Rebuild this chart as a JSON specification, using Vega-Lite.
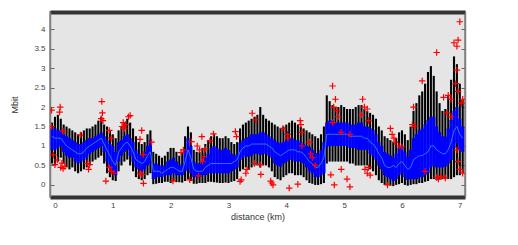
{
  "$schema": "https://vega.github.io/schema/vega-lite/v6.json",
  "autosize": {"type": "none"},
  "padding": {"left": 50, "top": 12, "right": 53, "bottom": 48},
  "width": 415,
  "height": 185,
  "background": "white",
  "config": {
    "view": {"fill": "#e5e5e5", "stroke": "#808080", "strokeWidth": 1.5},
    "axis": {"labelFont": "Liberation Sans", "labelFontSize": 8, "labelColor": "#444", "titleFont": "Liberation Sans", "titleFontSize": 9, "titleFontWeight": "normal", "titleColor": "#333", "grid": false}
  },
  "datasets": {
    "box": [
      {"d": -0.05, "lo": 0.55, "q1": 0.9, "m": 1.25, "q3": 1.45, "hi": 1.6},
      {"d": 0, "lo": 0.5, "q1": 0.9, "m": 1.2, "q3": 1.45, "hi": 1.75},
      {"d": 0.05, "lo": 0.6, "q1": 0.95, "m": 1.2, "q3": 1.4, "hi": 1.8},
      {"d": 0.1, "lo": 0.7, "q1": 1.0, "m": 1.2, "q3": 1.4, "hi": 1.7},
      {"d": 0.15, "lo": 0.55, "q1": 0.85, "m": 1.1, "q3": 1.3, "hi": 1.55},
      {"d": 0.2, "lo": 0.45, "q1": 0.75, "m": 1.0, "q3": 1.25, "hi": 1.5},
      {"d": 0.25, "lo": 0.4, "q1": 0.7, "m": 0.95, "q3": 1.2, "hi": 1.45},
      {"d": 0.3, "lo": 0.45, "q1": 0.7, "m": 0.9, "q3": 1.15, "hi": 1.4},
      {"d": 0.35, "lo": 0.35, "q1": 0.6, "m": 0.85, "q3": 1.1, "hi": 1.35},
      {"d": 0.4, "lo": 0.3, "q1": 0.55, "m": 0.8, "q3": 1.05, "hi": 1.3},
      {"d": 0.45, "lo": 0.35, "q1": 0.6, "m": 0.8, "q3": 1.05, "hi": 1.35},
      {"d": 0.5, "lo": 0.4, "q1": 0.65, "m": 0.85, "q3": 1.1, "hi": 1.4},
      {"d": 0.55, "lo": 0.45, "q1": 0.7, "m": 0.95, "q3": 1.15, "hi": 1.45},
      {"d": 0.6, "lo": 0.5, "q1": 0.8, "m": 1.0, "q3": 1.2, "hi": 1.45},
      {"d": 0.65, "lo": 0.6, "q1": 0.85, "m": 1.05, "q3": 1.2, "hi": 1.5},
      {"d": 0.7, "lo": 0.65, "q1": 0.9, "m": 1.1, "q3": 1.25, "hi": 1.55},
      {"d": 0.75, "lo": 0.7, "q1": 0.95, "m": 1.15, "q3": 1.3, "hi": 1.65},
      {"d": 0.8, "lo": 0.75, "q1": 1.0, "m": 1.2, "q3": 1.35, "hi": 1.75},
      {"d": 0.85, "lo": 0.55, "q1": 0.85, "m": 1.05, "q3": 1.25, "hi": 1.55},
      {"d": 0.9, "lo": 0.3, "q1": 0.6, "m": 0.9, "q3": 1.15, "hi": 1.5},
      {"d": 0.95, "lo": 0.2, "q1": 0.45, "m": 0.75, "q3": 1.05, "hi": 1.4},
      {"d": 1.0, "lo": 0.12, "q1": 0.3, "m": 0.6, "q3": 1.0, "hi": 1.3},
      {"d": 1.05, "lo": 0.1, "q1": 0.25, "m": 0.5, "q3": 0.85, "hi": 1.2},
      {"d": 1.1, "lo": 0.35, "q1": 0.6, "m": 0.85, "q3": 1.1, "hi": 1.4},
      {"d": 1.15, "lo": 0.5, "q1": 0.75, "m": 0.95, "q3": 1.15, "hi": 1.5},
      {"d": 1.2, "lo": 0.6, "q1": 0.85, "m": 1.05, "q3": 1.25, "hi": 1.6},
      {"d": 1.25, "lo": 0.65, "q1": 0.9, "m": 1.1, "q3": 1.3, "hi": 1.7},
      {"d": 1.3, "lo": 0.5, "q1": 0.75, "m": 1.0, "q3": 1.2, "hi": 1.6},
      {"d": 1.35, "lo": 0.35, "q1": 0.6, "m": 0.85, "q3": 1.1, "hi": 1.45},
      {"d": 1.4, "lo": 0.2, "q1": 0.45, "m": 0.65, "q3": 0.9, "hi": 1.25},
      {"d": 1.45, "lo": 0.15, "q1": 0.4, "m": 0.6, "q3": 0.8, "hi": 1.1},
      {"d": 1.5, "lo": 0.12, "q1": 0.35, "m": 0.55, "q3": 0.75, "hi": 1.05},
      {"d": 1.55, "lo": 0.15, "q1": 0.4, "m": 0.6, "q3": 0.85, "hi": 1.1},
      {"d": 1.6, "lo": 0.25, "q1": 0.5, "m": 0.75, "q3": 1.0, "hi": 1.3},
      {"d": 1.65, "lo": 0.3, "q1": 0.55, "m": 0.85, "q3": 1.15, "hi": 1.4},
      {"d": 1.7, "lo": 0.02, "q1": 0.15, "m": 0.35, "q3": 0.55, "hi": 0.85},
      {"d": 1.75, "lo": 0.03, "q1": 0.2, "m": 0.35, "q3": 0.55, "hi": 0.8},
      {"d": 1.8, "lo": 0.05, "q1": 0.2, "m": 0.35, "q3": 0.5, "hi": 0.75},
      {"d": 1.85, "lo": 0.05, "q1": 0.2, "m": 0.3, "q3": 0.5, "hi": 0.7},
      {"d": 1.9, "lo": 0.08, "q1": 0.25, "m": 0.35, "q3": 0.5, "hi": 0.75},
      {"d": 1.95, "lo": 0.08, "q1": 0.25, "m": 0.4, "q3": 0.6, "hi": 0.85},
      {"d": 2.0, "lo": 0.05, "q1": 0.25, "m": 0.45, "q3": 0.65, "hi": 0.95},
      {"d": 2.05, "lo": 0.1, "q1": 0.3, "m": 0.45, "q3": 0.7, "hi": 0.95},
      {"d": 2.1, "lo": 0.07, "q1": 0.25, "m": 0.4, "q3": 0.6, "hi": 0.85},
      {"d": 2.15, "lo": 0.07, "q1": 0.25, "m": 0.35, "q3": 0.5, "hi": 0.75},
      {"d": 2.2, "lo": 0.06, "q1": 0.25, "m": 0.35, "q3": 0.55, "hi": 0.85},
      {"d": 2.25, "lo": 0.1, "q1": 0.35, "m": 0.6, "q3": 0.9, "hi": 1.25},
      {"d": 2.3, "lo": 0.15, "q1": 0.4, "m": 0.9, "q3": 1.2, "hi": 1.5},
      {"d": 2.35, "lo": 0.1, "q1": 0.3, "m": 0.7, "q3": 1.0, "hi": 1.35},
      {"d": 2.4, "lo": 0.03, "q1": 0.2, "m": 0.4, "q3": 0.6, "hi": 0.9},
      {"d": 2.45, "lo": 0.03, "q1": 0.2, "m": 0.35, "q3": 0.55, "hi": 0.85},
      {"d": 2.5, "lo": 0.05, "q1": 0.2, "m": 0.35, "q3": 0.55, "hi": 0.85},
      {"d": 2.55, "lo": 0.05, "q1": 0.25, "m": 0.35, "q3": 0.6, "hi": 0.95},
      {"d": 2.6, "lo": 0.05, "q1": 0.25, "m": 0.45, "q3": 0.7, "hi": 1.05},
      {"d": 2.65, "lo": 0.08, "q1": 0.3, "m": 0.5, "q3": 0.8, "hi": 1.15},
      {"d": 2.7, "lo": 0.08, "q1": 0.3, "m": 0.55, "q3": 0.95, "hi": 1.25},
      {"d": 2.75, "lo": 0.07, "q1": 0.3, "m": 0.55, "q3": 1.0, "hi": 1.3},
      {"d": 2.8, "lo": 0.06, "q1": 0.3, "m": 0.55, "q3": 0.95, "hi": 1.25},
      {"d": 2.85, "lo": 0.05, "q1": 0.3, "m": 0.55, "q3": 0.9, "hi": 1.2},
      {"d": 2.9, "lo": 0.05, "q1": 0.3, "m": 0.55, "q3": 0.9, "hi": 1.2},
      {"d": 2.95, "lo": 0.06, "q1": 0.3, "m": 0.55, "q3": 0.95, "hi": 1.25},
      {"d": 3.0, "lo": 0.05, "q1": 0.3, "m": 0.55, "q3": 0.9, "hi": 1.2},
      {"d": 3.05, "lo": 0.08, "q1": 0.35, "m": 0.55, "q3": 0.8, "hi": 1.1},
      {"d": 3.1, "lo": 0.1, "q1": 0.4, "m": 0.6, "q3": 0.75, "hi": 1.05},
      {"d": 3.15, "lo": 0.15, "q1": 0.45, "m": 0.65, "q3": 0.8, "hi": 1.1},
      {"d": 3.2, "lo": 0.35, "q1": 0.64, "m": 0.85, "q3": 1.08, "hi": 1.45},
      {"d": 3.25, "lo": 0.4, "q1": 0.7, "m": 0.95, "q3": 1.15, "hi": 1.55},
      {"d": 3.3, "lo": 0.45, "q1": 0.75, "m": 1.0, "q3": 1.2, "hi": 1.6},
      {"d": 3.35, "lo": 0.4, "q1": 0.72, "m": 1.0, "q3": 1.23, "hi": 1.65},
      {"d": 3.4, "lo": 0.45, "q1": 0.75, "m": 1.05, "q3": 1.3, "hi": 1.7},
      {"d": 3.45, "lo": 0.5, "q1": 0.8, "m": 1.05, "q3": 1.3, "hi": 1.75},
      {"d": 3.5, "lo": 0.5, "q1": 0.8, "m": 1.05, "q3": 1.3, "hi": 1.8},
      {"d": 3.55, "lo": 0.45, "q1": 0.77, "m": 1.05, "q3": 1.35, "hi": 2.0},
      {"d": 3.6, "lo": 0.5, "q1": 0.8, "m": 1.05, "q3": 1.35, "hi": 1.8},
      {"d": 3.65, "lo": 0.5, "q1": 0.8, "m": 1.05, "q3": 1.3, "hi": 1.7},
      {"d": 3.7, "lo": 0.45, "q1": 0.75, "m": 1.0, "q3": 1.25, "hi": 1.65},
      {"d": 3.75, "lo": 0.35, "q1": 0.7, "m": 0.95, "q3": 1.2, "hi": 1.6},
      {"d": 3.8, "lo": 0.2, "q1": 0.55, "m": 0.85, "q3": 1.15, "hi": 1.55},
      {"d": 3.85, "lo": 0.15, "q1": 0.5, "m": 0.8, "q3": 1.1, "hi": 1.5},
      {"d": 3.9, "lo": 0.12, "q1": 0.47, "m": 0.75, "q3": 1.07, "hi": 1.45},
      {"d": 3.95, "lo": 0.2, "q1": 0.55, "m": 0.8, "q3": 1.1, "hi": 1.5},
      {"d": 4.0, "lo": 0.25, "q1": 0.6, "m": 0.85, "q3": 1.15, "hi": 1.55},
      {"d": 4.05, "lo": 0.3, "q1": 0.65, "m": 0.9, "q3": 1.2, "hi": 1.6},
      {"d": 4.1, "lo": 0.3, "q1": 0.65, "m": 0.9, "q3": 1.2, "hi": 1.65},
      {"d": 4.15, "lo": 0.25, "q1": 0.6, "m": 0.9, "q3": 1.15, "hi": 1.6},
      {"d": 4.2, "lo": 0.25, "q1": 0.6, "m": 0.85, "q3": 1.15, "hi": 1.55},
      {"d": 4.25, "lo": 0.25, "q1": 0.6, "m": 0.85, "q3": 1.1, "hi": 1.5},
      {"d": 4.3, "lo": 0.2, "q1": 0.55, "m": 0.8, "q3": 1.05, "hi": 1.45},
      {"d": 4.35, "lo": 0.12, "q1": 0.45, "m": 0.7, "q3": 1.0, "hi": 1.4},
      {"d": 4.4, "lo": 0.05, "q1": 0.35, "m": 0.6, "q3": 0.97, "hi": 1.35},
      {"d": 4.45, "lo": 0.03, "q1": 0.3, "m": 0.55, "q3": 0.9, "hi": 1.3},
      {"d": 4.5, "lo": 0.0, "q1": 0.2, "m": 0.45, "q3": 0.82, "hi": 1.25},
      {"d": 4.55, "lo": 0.0, "q1": 0.2, "m": 0.45, "q3": 0.8, "hi": 1.2},
      {"d": 4.6, "lo": 0.02, "q1": 0.25, "m": 0.55, "q3": 0.9, "hi": 1.3},
      {"d": 4.65, "lo": 0.05, "q1": 0.3, "m": 0.7, "q3": 1.1, "hi": 1.5},
      {"d": 4.7, "lo": 0.55, "q1": 0.97, "m": 1.3, "q3": 1.6, "hi": 2.3},
      {"d": 4.75, "lo": 0.6, "q1": 1.0, "m": 1.3, "q3": 1.65, "hi": 2.15},
      {"d": 4.8, "lo": 0.6, "q1": 1.0, "m": 1.3, "q3": 1.65, "hi": 2.05},
      {"d": 4.85, "lo": 0.6, "q1": 1.0, "m": 1.3, "q3": 1.6, "hi": 2.0},
      {"d": 4.9, "lo": 0.6, "q1": 1.0, "m": 1.3, "q3": 1.6, "hi": 2.0},
      {"d": 4.95, "lo": 0.6, "q1": 1.0, "m": 1.3, "q3": 1.6, "hi": 2.05},
      {"d": 5.0, "lo": 0.6, "q1": 1.0, "m": 1.3, "q3": 1.6, "hi": 2.0},
      {"d": 5.05, "lo": 0.6, "q1": 1.0, "m": 1.3, "q3": 1.6, "hi": 1.95},
      {"d": 5.1, "lo": 0.55, "q1": 0.95, "m": 1.25, "q3": 1.55, "hi": 1.95},
      {"d": 5.15, "lo": 0.55, "q1": 0.95, "m": 1.25, "q3": 1.55, "hi": 1.95},
      {"d": 5.2, "lo": 0.5, "q1": 0.95, "m": 1.25, "q3": 1.55, "hi": 2.0},
      {"d": 5.25, "lo": 0.5, "q1": 0.9, "m": 1.25, "q3": 1.6, "hi": 2.05},
      {"d": 5.3, "lo": 0.5, "q1": 0.9, "m": 1.25, "q3": 1.6, "hi": 2.05},
      {"d": 5.35, "lo": 0.5, "q1": 0.9, "m": 1.2, "q3": 1.5, "hi": 1.95},
      {"d": 5.4, "lo": 0.5, "q1": 0.9, "m": 1.2, "q3": 1.5, "hi": 1.9},
      {"d": 5.45, "lo": 0.4, "q1": 0.8, "m": 1.1, "q3": 1.45, "hi": 1.85},
      {"d": 5.5, "lo": 0.35, "q1": 0.73, "m": 1.05, "q3": 1.41, "hi": 1.8},
      {"d": 5.55, "lo": 0.25, "q1": 0.65, "m": 0.95, "q3": 1.3, "hi": 1.7},
      {"d": 5.6, "lo": 0.12, "q1": 0.5, "m": 0.8, "q3": 1.1, "hi": 1.5},
      {"d": 5.65, "lo": 0.05, "q1": 0.4, "m": 0.7, "q3": 1.0, "hi": 1.4},
      {"d": 5.7, "lo": 0.0, "q1": 0.25, "m": 0.5, "q3": 0.85, "hi": 1.25},
      {"d": 5.75, "lo": 0.0, "q1": 0.2, "m": 0.45, "q3": 0.8, "hi": 1.2},
      {"d": 5.8, "lo": -0.02, "q1": 0.15, "m": 0.45, "q3": 0.75, "hi": 1.15},
      {"d": 5.85, "lo": -0.03, "q1": 0.1, "m": 0.5, "q3": 0.7, "hi": 1.1},
      {"d": 5.9, "lo": 0.0, "q1": 0.15, "m": 0.45, "q3": 0.8, "hi": 1.2},
      {"d": 5.95, "lo": 0.02, "q1": 0.25, "m": 0.55, "q3": 0.95, "hi": 1.35},
      {"d": 6.0, "lo": 0.05, "q1": 0.3, "m": 0.6, "q3": 0.98, "hi": 1.4},
      {"d": 6.05, "lo": 0.0, "q1": 0.2, "m": 0.5, "q3": 0.85, "hi": 1.3},
      {"d": 6.1, "lo": -0.02, "q1": 0.13, "m": 0.4, "q3": 0.73, "hi": 1.15},
      {"d": 6.15, "lo": 0.0, "q1": 0.15, "m": 0.45, "q3": 0.9, "hi": 1.5},
      {"d": 6.2, "lo": 0.02, "q1": 0.15, "m": 0.65, "q3": 1.2, "hi": 1.9},
      {"d": 6.25, "lo": 0.02, "q1": 0.15, "m": 0.7, "q3": 1.3, "hi": 2.1},
      {"d": 6.3, "lo": 0.05, "q1": 0.2, "m": 0.75, "q3": 1.4, "hi": 2.3},
      {"d": 6.35, "lo": 0.05, "q1": 0.2, "m": 0.75, "q3": 1.45, "hi": 2.4},
      {"d": 6.4, "lo": 0.08, "q1": 0.25, "m": 0.8, "q3": 1.55, "hi": 2.6},
      {"d": 6.45, "lo": 0.1, "q1": 0.3, "m": 0.85, "q3": 1.67, "hi": 2.9},
      {"d": 6.5, "lo": 0.15, "q1": 0.45, "m": 1.0, "q3": 1.75, "hi": 3.05},
      {"d": 6.55, "lo": 0.15, "q1": 0.5, "m": 1.0, "q3": 1.75, "hi": 2.8},
      {"d": 6.6, "lo": 0.12, "q1": 0.45, "m": 0.9, "q3": 1.5, "hi": 2.4},
      {"d": 6.65, "lo": 0.15, "q1": 0.45, "m": 0.85, "q3": 1.35, "hi": 2.1},
      {"d": 6.7, "lo": 0.15, "q1": 0.45, "m": 0.8, "q3": 1.25, "hi": 1.9},
      {"d": 6.75, "lo": 0.15, "q1": 0.47, "m": 0.8, "q3": 1.24, "hi": 1.95},
      {"d": 6.8, "lo": 0.15, "q1": 0.55, "m": 0.9, "q3": 1.45, "hi": 2.3},
      {"d": 6.85, "lo": 0.15, "q1": 0.64, "m": 1.1, "q3": 1.67, "hi": 2.7},
      {"d": 6.9, "lo": 0.2, "q1": 0.95, "m": 1.4, "q3": 1.9, "hi": 3.3},
      {"d": 6.95, "lo": 0.25, "q1": 1.07, "m": 1.5, "q3": 2.0, "hi": 3.1},
      {"d": 7.0, "lo": 0.25, "q1": 0.9, "m": 1.3, "q3": 1.7, "hi": 2.6},
      {"d": 7.05, "lo": 0.3, "q1": 0.85, "m": 1.2, "q3": 1.5, "hi": 2.2}
    ],
    "out": [
      {"d": -0.06, "v": 1.92}, {"d": 0.09, "v": 2.0}, {"d": 0.08, "v": 1.87}, {"d": -0.06, "v": 1.5}, {"d": 0.14, "v": 1.38},
      {"d": -0.03, "v": 0.77}, {"d": 0.04, "v": 0.64}, {"d": 0.0, "v": 0.52}, {"d": 0.12, "v": 0.56}, {"d": 0.1, "v": 0.45},
      {"d": 0.14, "v": 0.42}, {"d": 0.17, "v": 0.48}, {"d": 0.44, "v": 1.28}, {"d": 0.56, "v": 0.55}, {"d": 0.6, "v": 0.52},
      {"d": 0.58, "v": 0.4}, {"d": 0.81, "v": 2.14}, {"d": 0.82, "v": 1.85}, {"d": 0.8, "v": 1.7}, {"d": 0.83, "v": 1.65},
      {"d": 0.94, "v": 1.4}, {"d": 0.97, "v": 1.2}, {"d": 0.88, "v": 0.1}, {"d": 0.94, "v": 0.45}, {"d": 0.97, "v": 0.35},
      {"d": 1.02, "v": 0.3}, {"d": 1.27, "v": 1.75}, {"d": 1.3, "v": 1.78}, {"d": 1.16, "v": 1.5}, {"d": 1.2, "v": 1.45},
      {"d": 1.18, "v": 1.6}, {"d": 1.22, "v": 1.55}, {"d": 1.5, "v": 1.4}, {"d": 1.47, "v": 1.17}, {"d": 1.53, "v": 0.78},
      {"d": 1.47, "v": 0.3}, {"d": 1.5, "v": 0.27}, {"d": 1.53, "v": 0.04}, {"d": 1.67, "v": 1.1},
      {"d": 2.04, "v": 0.1}, {"d": 2.18, "v": 0.83}, {"d": 2.22, "v": 0.9}, {"d": 2.33, "v": 0.13}, {"d": 2.36, "v": 1.11},
      {"d": 2.46, "v": 1.0}, {"d": 2.5, "v": 0.9}, {"d": 2.48, "v": 0.23}, {"d": 2.54, "v": 1.24}, {"d": 2.57, "v": 0.73},
      {"d": 2.55, "v": 0.6}, {"d": 2.6, "v": 0.92}, {"d": 2.68, "v": 1.13}, {"d": 2.74, "v": 1.31}, {"d": 3.12, "v": 1.37},
      {"d": 3.14, "v": 1.24}, {"d": 3.2, "v": 0.09}, {"d": 3.22, "v": 0.13}, {"d": 3.3, "v": 0.3}, {"d": 3.32, "v": 0.4},
      {"d": 3.41, "v": 1.84}, {"d": 3.47, "v": 1.67}, {"d": 3.45, "v": 0.55}, {"d": 3.55, "v": 0.52}, {"d": 3.56, "v": 0.27},
      {"d": 3.75, "v": 0.05}, {"d": 3.73, "v": 0.1}, {"d": 3.77, "v": 0.0}, {"d": 3.94, "v": 1.45}, {"d": 4.02, "v": 1.3},
      {"d": 4.03, "v": 1.2}, {"d": 4.05, "v": -0.08}, {"d": 4.2, "v": 0.02}, {"d": 4.25, "v": 1.55}, {"d": 4.24, "v": 1.65},
      {"d": 4.27, "v": 1.35}, {"d": 4.27, "v": 1.0}, {"d": 4.4, "v": 1.1}, {"d": 4.42, "v": 0.8}, {"d": 4.45, "v": 0.7},
      {"d": 4.5, "v": 0.5}, {"d": 4.77, "v": 0.26}, {"d": 4.8, "v": 2.54}, {"d": 4.82, "v": 2.0}, {"d": 4.85, "v": 2.2},
      {"d": 4.88, "v": 1.9}, {"d": 4.9, "v": 1.75}, {"d": 4.8, "v": 1.6}, {"d": 4.83, "v": 0.0}, {"d": 4.95, "v": 0.4},
      {"d": 4.95, "v": 1.35}, {"d": 5.1, "v": 1.3}, {"d": 5.05, "v": 0.15}, {"d": 5.1, "v": -0.05}, {"d": 5.3, "v": 1.8},
      {"d": 5.32, "v": 2.2}, {"d": 5.35, "v": 2.0}, {"d": 5.4, "v": 1.95}, {"d": 5.42, "v": 1.65}, {"d": 5.36, "v": 0.4},
      {"d": 5.4, "v": 0.3}, {"d": 5.45, "v": 0.25}, {"d": 5.42, "v": 0.45}, {"d": 5.8, "v": 1.45}, {"d": 5.83, "v": 1.3},
      {"d": 5.86, "v": 1.2}, {"d": 5.88, "v": 1.1}, {"d": 5.95, "v": 1.0}, {"d": 6.0, "v": 0.98}, {"d": 6.2, "v": 2.0},
      {"d": 6.18, "v": 1.55}, {"d": 6.22, "v": 1.5}, {"d": 6.35, "v": 2.67}, {"d": 6.4, "v": 0.35}, {"d": 6.6, "v": 3.4},
      {"d": 6.6, "v": 0.2}, {"d": 6.63, "v": 0.15}, {"d": 6.68, "v": 0.22}, {"d": 6.75, "v": 0.18}, {"d": 6.72, "v": 2.25},
      {"d": 6.8, "v": 2.3}, {"d": 6.85, "v": 2.2}, {"d": 6.78, "v": 1.85}, {"d": 6.85, "v": 1.75}, {"d": 6.9, "v": 3.65},
      {"d": 6.95, "v": 3.56}, {"d": 6.97, "v": 3.72}, {"d": 7.0, "v": 4.19}, {"d": 6.95, "v": 2.95}, {"d": 6.93, "v": 2.6},
      {"d": 6.97, "v": 2.4}, {"d": 7.05, "v": 2.2}, {"d": 7.03, "v": 2.1}, {"d": 6.95, "v": 0.9}, {"d": 6.97, "v": 0.6},
      {"d": 7.0, "v": 0.4}, {"d": 7.05, "v": 0.3}, {"d": 5.75, "v": 0.0}
    ]
  },
  "layer": [
    {
      "data": {"name": "box"},
      "mark": {"type": "rule", "color": "#000000", "strokeWidth": 2.1, "clip": true},
      "encoding": {
        "x": {"field": "d", "type": "quantitative", "scale": {"domain": [-0.086, 7.09], "nice": false, "zero": false},
          "axis": {"orient": "bottom", "values": [0, 1, 2, 3, 4, 5, 6, 7], "format": "d", "title": "distance (km)", "ticks": false, "domainColor": "#333333", "domainWidth": 4, "labelPadding": 4, "titlePadding": 3}},
        "y": {"field": "lo", "type": "quantitative", "scale": {"domain": [-0.31, 4.44], "nice": false, "zero": false},
          "axis": {"orient": "left", "values": [0, 0.5, 1, 1.5, 2, 2.5, 3, 3.5, 4], "format": "~g", "title": "Mbit", "tickSize": -4, "tickColor": "#666666", "domainColor": "#808080", "domainWidth": 1.5, "labelPadding": 9, "titlePadding": 14}},
        "y2": {"field": "hi"}
      }
    },
    {
      "data": {"name": "box"},
      "mark": {"type": "rule", "color": "#0000ff", "strokeWidth": 3.2, "clip": true},
      "encoding": {
        "x": {"field": "d", "type": "quantitative", "scale": {"domain": [-0.086, 7.09], "nice": false, "zero": false},
          "axis": {"orient": "top", "labels": false, "ticks": false, "title": null, "domainColor": "#333333", "domainWidth": 4}},
        "y": {"field": "q1", "type": "quantitative", "scale": {"domain": [-0.31, 4.44], "nice": false, "zero": false},
          "axis": {"orient": "right", "values": [0, 0.5, 1, 1.5, 2, 2.5, 3, 3.5, 4], "labels": false, "title": null, "tickSize": -4, "tickColor": "#666666", "domainColor": "#808080", "domainWidth": 1.5}},
        "y2": {"field": "q3"}
      }
    },
    {
      "data": {"name": "box"},
      "mark": {"type": "line", "color": "#2a78e8", "strokeWidth": 1, "clip": true},
      "encoding": {
        "x": {"field": "d", "type": "quantitative", "scale": {"domain": [-0.086, 7.09], "nice": false, "zero": false}, "axis": null},
        "y": {"field": "m", "type": "quantitative", "scale": {"domain": [-0.31, 4.44], "nice": false, "zero": false}, "axis": null}
      }
    },
    {
      "data": {"name": "out"},
      "mark": {"type": "point", "shape": "M-1,0L1,0M0,-1L0,1", "size": 42, "color": "#ff0000", "strokeWidth": 1.2, "filled": false, "opacity": 1, "clip": true},
      "encoding": {
        "x": {"field": "d", "type": "quantitative", "scale": {"domain": [-0.086, 7.09], "nice": false, "zero": false}, "axis": null},
        "y": {"field": "v", "type": "quantitative", "scale": {"domain": [-0.31, 4.44], "nice": false, "zero": false}, "axis": null}
      }
    }
  ],
  "resolve": {"axis": {"x": "independent", "y": "independent"}}
}
